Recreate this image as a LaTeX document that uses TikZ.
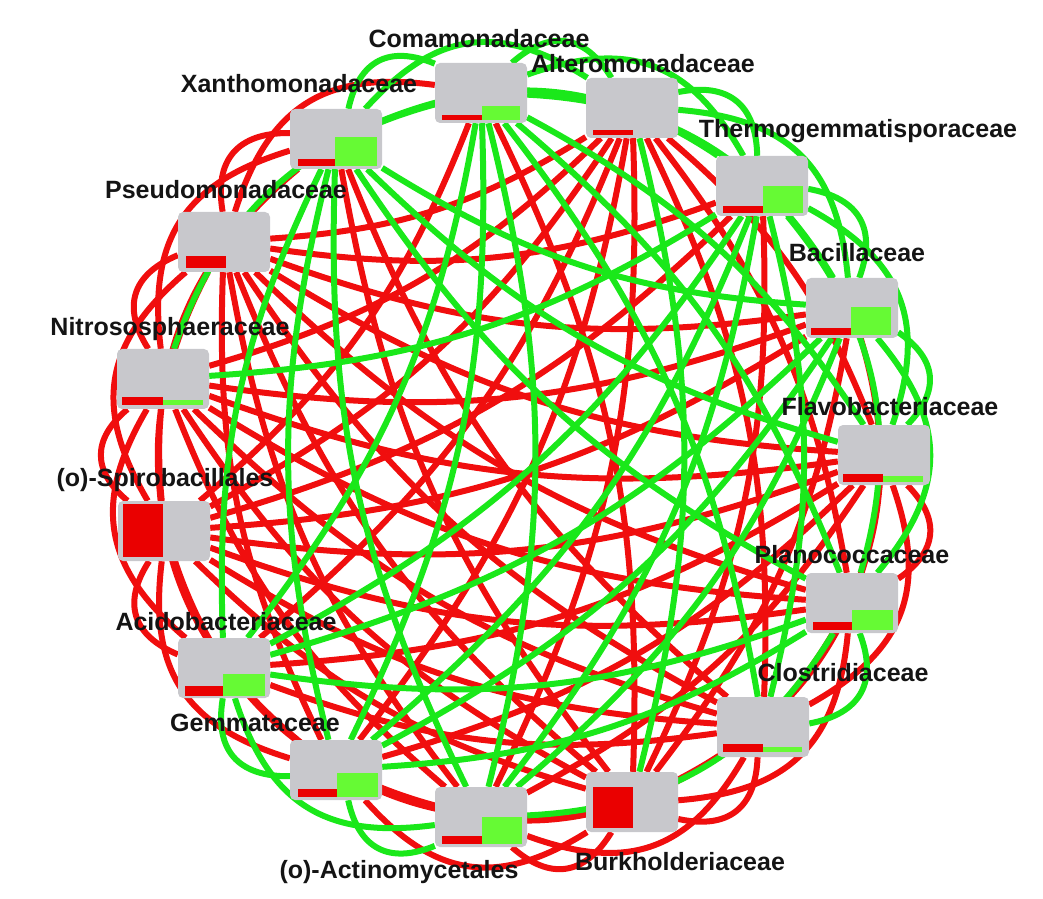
\documentclass[tikz,border=0pt]{standalone}
\usepackage{fontspec}
\setmainfont{Liberation Sans}
\usepackage{tikz}
\usetikzlibrary{positioning, backgrounds}
\definecolor{boxgrey}{RGB}{200,200,204}
\definecolor{linkred}{RGB}{240,14,14}
\definecolor{linkgreen}{RGB}{26,232,26}
\definecolor{barred}{RGB}{234,0,0}
\definecolor{bargreen}{RGB}{102,250,52}

\begin{document}
\begin{tikzpicture}[x=1pt, y=1pt,
  every node/.style={font=\bfseries\fontsize{25}{27}\selectfont, text=black!92},
  fam/.style={fill=boxgrey, rounded corners=5pt, minimum width=92pt, minimum height=60pt, inner sep=0pt},
  redlink/.style={line width=6pt, color=linkred},
  greenlink/.style={line width=6pt, color=linkgreen},
  arcA/.style={bend left=50, looseness=1.3},
  arcB/.style={bend left=40, looseness=1.2},
  arcC/.style={bend left=28},
  chord/.style={bend left=14},
]
\useasboundingbox (0,0) rectangle (1043,898);

% family boxes, clockwise from the top
\node[fam] (com) at (481,805) {};
\node[fam] (alt) at (632,790) {};
\node[fam] (the) at (762,712) {};
\node[fam] (bac) at (852,590) {};
\node[fam] (fla) at (884,443) {};
\node[fam] (pla) at (852,295) {};
\node[fam] (clo) at (763,171) {};
\node[fam] (bur) at (632,96) {};
\node[fam] (act) at (481,81) {};
\node[fam] (gem) at (336,128) {};
\node[fam] (aci) at (224,230) {};
\node[fam] (spi) at (164,367) {};
\node[fam] (nit) at (163,519) {};
\node[fam] (pse) at (224,656) {};
\node[fam] (xan) at (336,759) {};

% bars inside the boxes
\fill[barred] ([shift={(7,3)}]com.south west) rectangle ++(40,5); \fill[bargreen] ([shift={(47,3)}]com.south west) rectangle ++(38,14);
\fill[barred] ([shift={(7,3)}]alt.south west) rectangle ++(40,5);
\fill[barred] ([shift={(7,3)}]the.south west) rectangle ++(40,7); \fill[bargreen] ([shift={(47,3)}]the.south west) rectangle ++(40,27);
\fill[barred] ([shift={(5,3)}]bac.south west) rectangle ++(40,7); \fill[bargreen] ([shift={(45,3)}]bac.south west) rectangle ++(40,28);
\fill[barred] ([shift={(5,3)}]fla.south west) rectangle ++(40,8); \fill[bargreen] ([shift={(45,3)}]fla.south west) rectangle ++(40,6);
\fill[barred] ([shift={(7,3)}]pla.south west) rectangle ++(39,8); \fill[bargreen] ([shift={(46,3)}]pla.south west) rectangle ++(41,20);
\fill[barred] ([shift={(6,5)}]clo.south west) rectangle ++(40,8); \fill[bargreen] ([shift={(46,5)}]clo.south west) rectangle ++(39,5);
\fill[barred] ([shift={(7,4)}]bur.south west) rectangle ++(40,41);
\fill[barred] ([shift={(7,3)}]act.south west) rectangle ++(40,8); \fill[bargreen] ([shift={(47,3)}]act.south west) rectangle ++(40,27);
\fill[barred] ([shift={(8,3)}]gem.south west) rectangle ++(39,8); \fill[bargreen] ([shift={(47,3)}]gem.south west) rectangle ++(41,24);
\fill[barred] ([shift={(7,2)}]aci.south west) rectangle ++(38,10); \fill[bargreen] ([shift={(45,2)}]aci.south west) rectangle ++(42,22);
\fill[barred] ([shift={(5,4)}]spi.south west) rectangle ++(40,53);
\fill[barred] ([shift={(5,4)}]nit.south west) rectangle ++(41,8); \fill[bargreen] ([shift={(46,4)}]nit.south west) rectangle ++(40,5);
\fill[barred] ([shift={(8,4)}]pse.south west) rectangle ++(40,12);
\fill[barred] ([shift={(8,3)}]xan.south west) rectangle ++(39,7); \fill[bargreen] ([shift={(45,3)}]xan.south west) rectangle ++(42,29);

% labels
\node (comlab) at (479,859) {Comamonadaceae};
\node (altlab) at (643,834) {Alteromonadaceae};
\node (thelab) at (858,767) {Thermogemmatisporaceae};
\node (baclab) at (857,645) {Bacillaceae};
\node (flalab) at (890,491) {Flavobacteriaceae};
\node (plalab) at (852,343) {Planococcaceae};
\node (clolab) at (843,225) {Clostridiaceae};
\node (burlab) at (680,36) {Burkholderiaceae};
\node (actlab) at (399,26) {(o)-Actinomycetales};
\node (gemlab) at (255,175) {Gemmataceae};
\node (acilab) at (226,276) {Acidobacteriaceae};
\node (spilab) at (165,418) {(o)-Spirobacillales};
\node (nitlab) at (170,569) {Nitrososphaeraceae};
\node (pselab) at (226,708) {Pseudomonadaceae};
\node (xanlab) at (299,814) {Xanthomonadaceae};

\begin{scope}[on background layer]
% negative links
\draw[redlink] (fla) to[arcA] (pla) (clo) to[arcA] (bur) (bur) to[arcA] (act) (aci) to[arcA] (spi)
  (spi) to[arcA] (nit) (nit) to[arcA] (pse) (pse) to[arcA] (xan);
\draw[redlink] (fla) to[arcB] (clo) (pla) to[arcB] (bur) (clo) to[arcB] (act)
  (bur) to[arcB] (gem) (gem) to[arcB] (spi) (aci) to[arcB] (nit) (spi) to[arcB] (pse)
  (nit) to[arcB] (xan) (pse) to[arcB] (com);
\draw[redlink] (bac) to[arcC] (clo) (fla) to[arcC] (bur) (clo) to[arcC] (gem)
  (bur) to[arcC] (aci) (act) to[arcC] (spi) (gem) to[arcC] (nit) (aci) to[arcC] (pse)
  (spi) to[arcC] (xan);
\draw[redlink] (com) to[chord] (bur) (com) to[chord] (spi) (alt) to[chord] (fla) (alt) to[chord] (pse);
\draw[redlink] (alt) to[chord] (pla) (alt) to[chord] (clo) (alt) to[chord] (act) (alt) to[chord] (gem)
  (alt) to[chord] (aci) (alt) to[chord] (spi) (alt) to[chord] (nit);
\draw[redlink] (the) to[chord] (bur) (the) to[chord] (spi) (the) to[chord] (pse);
\draw[redlink] (bac) to[chord] (bur) (bac) to[chord] (spi) (bac) to[chord] (nit) (bac) to[chord] (pse);
\draw[redlink] (fla) to[chord] (act) (fla) to[chord] (gem) (fla) to[chord] (aci) (fla) to[chord] (spi)
  (fla) to[chord] (nit) (fla) to[chord] (pse);
\draw[redlink] (pla) to[chord] (spi) (pla) to[chord] (nit) (pla) to[chord] (pse);
\draw[redlink] (clo) to[chord] (aci) (clo) to[chord] (spi) (clo) to[chord] (nit) (clo) to[chord] (pse)
  (clo) to[chord] (xan);
\draw[redlink] (bur) to[chord] (spi) (bur) to[chord] (nit) (bur) to[chord] (pse) (bur) to[chord] (xan);
\draw[redlink] (act) to[chord] (nit) (act) to[chord] (pse) (gem) to[chord] (pse);
% positive links
\draw[greenlink] (com) to[arcA] (alt) (alt) to[arcA] (the) (the) to[arcA] (bac) (bac) to[arcA] (fla)
  (pla) to[arcA] (clo) (act) to[arcA] (gem) (gem) to[arcA] (aci) (xan) to[arcA] (com);
\draw[greenlink] (com) to[arcB] (the) (the) to[arcB] (fla) (bac) to[arcB] (pla) (act) to[arcB] (aci)
  (xan) to[arcB] (alt) (alt) to[arcB] (bac);
\draw[greenlink] (com) to[arcC] (bac) (the) to[arcC] (pla) (pla) to[arcC] (act) (nit) to[arcC] (com)
  (xan) to[arcC] (the);
\draw[greenlink] (com) to[chord] (fla) (com) to[chord] (pla) (com) to[chord] (clo) (com) to[chord] (act)
  (com) to[chord] (gem) (com) to[chord] (aci) (alt) to[chord] (bur);
\draw[greenlink] (the) to[chord] (clo) (the) to[chord] (act) (the) to[chord] (gem) (the) to[chord] (aci)
  (the) to[chord] (nit);
\draw[greenlink] (bac) to[chord] (act) (bac) to[chord] (gem) (bac) to[chord] (aci) (bac) to[chord] (xan)
  (fla) to[chord] (xan);
\draw[greenlink] (pla) to[chord] (gem) (pla) to[chord] (aci) (pla) to[chord] (xan) (act) to[chord] (xan)
  (gem) to[chord] (xan) (aci) to[chord] (xan);
\end{scope}
\end{tikzpicture}
\end{document}
